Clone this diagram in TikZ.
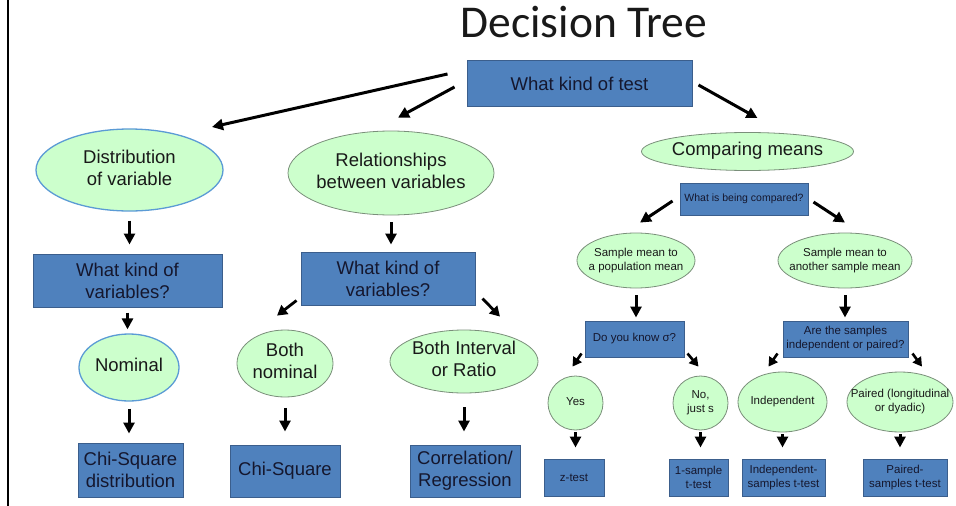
\documentclass[tikz,border=0pt]{standalone}
\usepackage{fontspec}
\setmainfont{Liberation Sans}
\newfontfamily\titlefont{Carlito}
\usetikzlibrary{shapes.geometric,arrows.meta,calc}
\definecolor{boxblue}{HTML}{4F81BD}
\definecolor{boxedge}{HTML}{3B5E8C}
\definecolor{ellfill}{HTML}{CCFFCC}
\definecolor{ellblue}{HTML}{5B9BD5}
\definecolor{ellgray}{HTML}{7A8F7A}
\definecolor{txtdark}{HTML}{15172E}
\newcommand\etxt[1]{\makebox[0pt]{\begin{tabular}{@{}c@{}}#1\end{tabular}}}
\newcommand\bigf{\fontsize{18.5}{22}\selectfont}
\newcommand\smallf{\fontsize{11.5}{14}\selectfont}
\tikzset{
  box/.style={rectangle, draw=boxedge, line width=1pt, fill=boxblue, inner sep=0pt, align=center, text=txtdark},
  ell/.style={ellipse, fill=ellfill, draw=ellgray, line width=0.8pt, inner sep=0pt, text=black!90},
  ellb/.style={ell, draw=ellblue, line width=1.3pt},
  arr/.style={line width=3pt, -{Triangle[length=11pt,width=11pt]}},
  arrm/.style={line width=2.8pt, -{Triangle[length=10pt,width=11pt]}},
  arrs/.style={line width=2.6pt, -{Triangle[length=9pt,width=10pt]}},
}
\begin{document}
\begin{tikzpicture}[x=1pt,y=-1pt]
\useasboundingbox (0,0) rectangle (956,506);
\draw[line width=2.5pt] (8,0) -- (8,506);

\node[anchor=base, font=\titlefont\fontsize{45.5}{50}\selectfont, text=black!90] (title) at (584,37) {Decision Tree};

% top
\node[box, minimum width=225pt, minimum height=46pt, font=\bigf] (test) at (579.5,83.5) {What kind of test};

% left column
\node[ellb, minimum width=187pt, minimum height=82pt, font=\bigf] (dist) at (129.5,170) {\etxt{Distribution\\of variable}};
\node[box, minimum width=189pt, minimum height=53pt, font=\bigf] (kv1) at (127.5,280.5) {What kind of\\variables?};
\node[ellb, minimum width=100pt, minimum height=67pt, font=\bigf] (nom) at (129,367.5) {\etxt{Nominal}};
\node[box, minimum width=105pt, minimum height=54pt, font=\bigf] (chi1) at (130.5,470) {Chi-Square\\distribution};

% middle column
\node[ell, minimum width=206pt, minimum height=84pt, font=\bigf] (rel) at (391,173) {\etxt{Relationships\\between variables}};
\node[box, minimum width=174pt, minimum height=53pt, font=\bigf] (kv2) at (388,278.5) {What kind of\\variables?};
\node[ell, minimum width=96pt, minimum height=67pt, font=\bigf] (bn) at (285,363.5) {\etxt{Both\\nominal}};
\node[ell, minimum width=148pt, minimum height=63pt, font=\bigf] (bir) at (464,361.5) {\etxt{Both Interval\\or Ratio}};
\node[box, minimum width=110pt, minimum height=52pt, font=\bigf] (chi2) at (285,471) {Chi-Square};
\node[box, minimum width=110pt, minimum height=52pt, font=\bigf] (corr) at (465,471) {Correlation/\\Regression};

% right column
\node[ell, minimum width=212pt, minimum height=38pt, font=\bigf] (comp) at (747.5,151.5) {\etxt{Comparing means}};
\node[box, minimum width=128pt, minimum height=32pt, font=\fontsize{10.5}{13}\selectfont] (wibc) at (744,199) {What is being compared?};
\node[ell, minimum width=118pt, minimum height=55pt, font=\smallf] (smp) at (636,260.5) {\etxt{Sample mean to\\a population mean}};
\node[ell, minimum width=134pt, minimum height=55pt, font=\smallf] (sma) at (845,260.5) {\etxt{Sample mean to\\another sample mean}};
\node[box, minimum width=99pt, minimum height=36pt, font=\smallf] (dyk) at (634.5,339) {Do you know σ?};
\node[box, minimum width=125pt, minimum height=36pt, font=\smallf] (ats) at (845.5,339) {Are the samples\\independent or paired?};
\node[ell, minimum width=55pt, minimum height=54pt, font=\smallf] (yes) at (575.5,403) {\etxt{Yes}};
\node[ell, minimum width=55pt, minimum height=54pt, font=\smallf] (no) at (700.5,403) {\etxt{No,\\just s}};
\node[ell, minimum width=89pt, minimum height=60pt, font=\smallf] (ind) at (782.5,402) {\etxt{Independent}};
\node[ell, minimum width=106pt, minimum height=60pt, font=\smallf] (pair) at (900,402) {\etxt{Paired (longitudinal\\or dyadic)}};
\node[box, minimum width=60pt, minimum height=37pt, font=\smallf] (z) at (574,477.5) {z-test};
\node[box, minimum width=59pt, minimum height=37pt, font=\smallf] (one) at (698.5,477.5) {1-sample\\t-test};
\node[box, minimum width=83pt, minimum height=37pt, font=\smallf] (indt) at (783.5,477.5) {Independent-\\samples t-test};
\node[box, minimum width=84pt, minimum height=37pt, font=\smallf] (pairt) at (905,477.5) {Paired-\\samples t-test};

% arrows from top
\draw[arr] ($(test.west)+(-19,-9.5)$) -- ($(dist.center)+(82.5,-43)$);
\draw[arr] ($(test.west)+(-12,3.5)$) -- ($(rel.north)+(7,-13)$);
\draw[arr] ($(test.east)+(6,1.5)$) -- ($(comp.north)+(10,-14)$);

% left verticals
\draw[arr, shorten <=9pt, shorten >=9pt] (dist.south) -- (dist.south |- kv1.north);
\draw[arr, shorten <=5pt, shorten >=4pt] (kv1.south) -- (kv1.south |- nom.north);
\draw[arr, shorten <=7pt, shorten >=9pt] (nom.south) -- (nom.south |- chi1.north);

% middle
\draw[arr, shorten <=7pt, shorten >=7pt] (rel.south) -- (rel.south |- kv2.north);
\draw[arrm] ($(kv2.south west)+(-4,-5)$) -- ($(bn.north)+(-8,-14)$);
\draw[arrm] ($(kv2.south east)+(7,-7)$) -- ($(bir.north)+(36,-13)$);
\draw[arr, shorten <=10.5pt, shorten >=13pt] (bn.south) -- (bn.south |- chi2.north);
\draw[arr, shorten <=14pt, shorten >=13pt] (bir.south) -- (bir.south |- corr.north);

% right
\draw[arr] ($(wibc.west)+(-7,2)$) -- ($(smp.north)+(4,-10)$);
\draw[arr] ($(wibc.east)+(5,3)$) -- ($(sma.north)+(0,-10)$);
\draw[arr, shorten <=7pt, shorten >=3pt] (smp.south) -- (smp.south |- dyk.north);
\draw[arr, shorten <=7pt, shorten >=3pt] (sma.south) -- (sma.south |- ats.north);
\draw[arrs] ($(dyk.south west)+(-3,-4)$) -- ($(yes.north)+(-3,-9)$);
\draw[arrs] ($(dyk.south east)+(3,-4)$) -- ($(no.north)+(-2,-9)$);
\draw[arrs] ($(ats.south west)+(-5,-4)$) -- ($(ind.north)+(-14,-5)$);
\draw[arrs] ($(ats.south east)+(4,-4)$) -- ($(pair.north)+(22,-5)$);
\draw[arr, shorten <=2pt, shorten >=11pt] (yes.south) -- (yes.south |- z.north);
\draw[arr, shorten <=2pt, shorten >=11pt] (no.south) -- (no.south |- one.north);
\draw[arr, shorten <=2pt, shorten >=11pt] (ind.south) -- (ind.south |- indt.north);
\draw[arr, shorten <=2pt, shorten >=11pt] (pair.south) -- (pair.south |- pairt.north);
\end{tikzpicture}
\end{document}
